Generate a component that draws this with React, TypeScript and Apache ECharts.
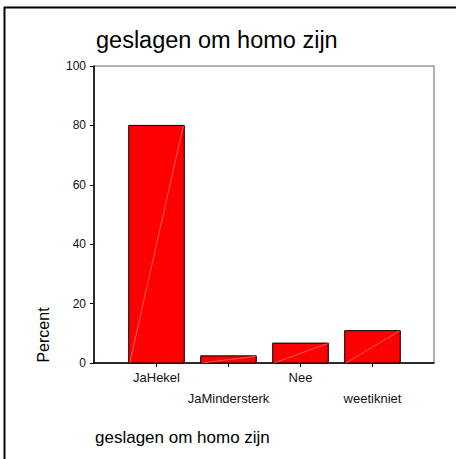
import React, { useEffect, useRef } from "react";
import * as echarts from "echarts";

const categories = ["JaHekel", "JaMindersterk", "Nee", "weetikniet"];
const percentValues = [80.0, 2.4, 6.7, 10.9];
const yTicks = { min: 0, max: 100, interval: 20 };
const chartTitle = "geslagen om homo zijn";
const footerText = "geslagen om homo zijn";
const yAxisTitle = "Percent";

const FONT = "'Liberation Sans', Arial, Helvetica, sans-serif";

export default function App() {
  const ref = useRef<HTMLDivElement>(null);
  useEffect(() => {
    document.body.style.margin = "0";
    if (!ref.current) return;
    const chart = echarts.init(ref.current, null, { renderer: "svg" });
    const option: any = {
      animation: false,
      backgroundColor: "#ffffff",
      textStyle: { fontFamily: FONT },
      grid: [
        { left: 94, right: 22, top: 66, height: 297, show: true, borderColor: "#666", borderWidth: 1, backgroundColor: "transparent" },
        { left: 120.5, width: 288, top: 66, height: 297 },
      ],
      xAxis: [
        {
          gridIndex: 0, type: "value", min: 0, max: 1,
          axisLine: { show: true, lineStyle: { color: "#000", width: 1.5 } },
          axisTick: { show: false }, axisLabel: { show: false }, splitLine: { show: false },
        },
        {
          gridIndex: 1, type: "category", data: categories,
          axisLine: { show: false },
          axisTick: { show: true, alignWithLabel: true, length: 4, lineStyle: { color: "#000", width: 1 } },
          axisLabel: {
            interval: 0, margin: 4, fontSize: 13, lineHeight: 21, color: "#111", fontFamily: FONT,
            formatter: (v: string, i: number) => (i % 2 === 1 ? "\n" + v : v),
          },
          splitLine: { show: false },
        },
      ],
      yAxis: [
        {
          gridIndex: 0, type: "value", min: yTicks.min, max: yTicks.max, interval: yTicks.interval,
          axisLine: { show: true, lineStyle: { color: "#000", width: 1.5 } },
          axisTick: { show: true, length: 4, lineStyle: { color: "#000" } },
          axisLabel: { margin: 8, fontSize: 12, color: "#111", fontFamily: FONT },
          splitLine: { show: false },
        },
        { gridIndex: 1, type: "value", min: yTicks.min, max: yTicks.max, show: false },
      ],
      series: [
        {
          type: "custom",
          xAxisIndex: 1,
          yAxisIndex: 1,
          data: percentValues.map((v, i) => [i, v]),
          renderItem: (params: any, api: any) => {
            const idx = api.value(0);
            const v = api.value(1);
            const base = api.coord([idx, 0]);
            const top = api.coord([idx, v]);
            const w = api.size([1, 0])[0] * 0.772;
            const x0 = base[0] - w / 2;
            return {
              type: "group",
              children: [
                {
                  type: "rect",
                  shape: { x: x0, y: top[1], width: w, height: base[1] - top[1] },
                  style: { fill: "#ff0000", stroke: "#000", lineWidth: 1 },
                },
                {
                  type: "line",
                  shape: { x1: x0 + 1, y1: base[1], x2: x0 + w - 1, y2: top[1] + 0.5 },
                  style: { stroke: "#ff9999", lineWidth: 0.6 },
                },
              ],
            };
          },
        },
      ],
      graphic: [
        { type: "line", shape: { x1: 4, y1: 7.5, x2: 460, y2: 7.5 }, style: { stroke: "#000", lineWidth: 2 } },
        { type: "line", shape: { x1: 4.5, y1: 7, x2: 4.5, y2: 470 }, style: { stroke: "#000", lineWidth: 2 } },
        {
          type: "text", x: 96, y: 40,
          style: { text: chartTitle, fontSize: 23.5, fontFamily: FONT, fill: "#000", textAlign: "left", textVerticalAlign: "middle", verticalAlign: "middle" },
        },
        {
          type: "text", x: 95, y: 437.5,
          style: { text: footerText, fontSize: 17, fontFamily: FONT, fill: "#000", textAlign: "left", textVerticalAlign: "middle", verticalAlign: "middle" },
        },
        {
          type: "text", x: 43, y: 335, rotation: Math.PI / 2,
          style: { text: yAxisTitle, fontSize: 16, fontFamily: FONT, fill: "#000", textAlign: "center", align: "center", textVerticalAlign: "middle", verticalAlign: "middle" },
        },
      ],
    };
    chart.setOption(option);
    return () => chart.dispose();
  }, []);
  return <div ref={ref} style={{ width: 456, height: 459 }} />;
}
